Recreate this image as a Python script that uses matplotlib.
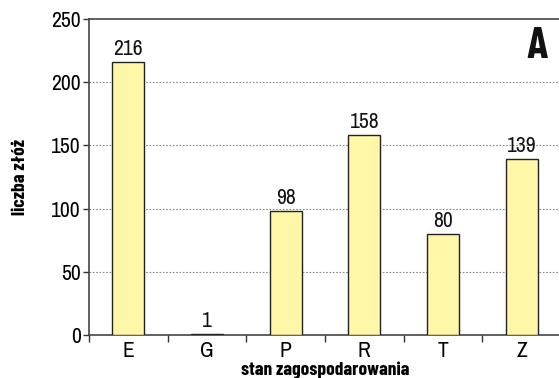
import matplotlib
matplotlib.use("Agg")
import matplotlib.pyplot as plt

categories = ["E", "G", "P", "R", "T", "Z"]
values = [216, 1, 98, 158, 80, 139]
yticks = [0, 50, 100, 150, 200, 250]

plt.rcParams["font.family"] = ["Archivo Narrow", "DejaVu Sans"]
bold_family = ["Barlow Condensed", "DejaVu Sans"]

fig = plt.figure(figsize=(5.59, 3.78), dpi=100)
ax = fig.add_axes([89 / 559, 1 - 335 / 378, (561 - 89) / 559, (335 - 19) / 378])

x = list(range(len(categories)))
ax.bar(x, values, width=0.41, color="#fff7a8", edgecolor="#222222", linewidth=1.0, zorder=3)
for xi, v in zip(x, values):
    ax.text(xi, v + 2.5, str(v), ha="center", va="bottom", fontsize=15.5, color="#111111")

ax.set_xlim(-0.5, len(categories) - 0.5)
ax.set_ylim(0, 250)
ax.set_yticks(yticks)
ax.set_yticklabels([str(t) for t in yticks], fontsize=15.5)
ax.set_xticks(x)
ax.set_xticklabels(categories, fontsize=15.5)
ax.set_xticks([i + 0.5 for i in range(-1, len(categories))], minor=True)
ax.tick_params(axis="x", which="major", length=0, pad=4)
ax.tick_params(axis="x", which="minor", length=5, width=1, color="#333333", direction="out")
ax.tick_params(axis="y", length=4, width=1, color="#333333", pad=2)

for gy in yticks[1:-1]:
    ax.axhline(gy, color="#888888", linewidth=0.8, linestyle=(0, (1.5, 1.5)), zorder=1)

for side in ["left", "top", "bottom"]:
    ax.spines[side].set_color("#444444")
    ax.spines[side].set_linewidth(1.2)
ax.spines["right"].set_visible(False)

ax.set_xlabel("stan zagospodarowania", fontsize=14, fontweight="bold", family=bold_family)
ax.xaxis.set_label_coords(0.5, -40 / 316)
ax.xaxis.label.set_va("baseline")
ax.set_ylabel("liczba złóż", fontsize=14, fontweight="bold", family=bold_family)
ax.yaxis.set_label_coords(-0.145, 0.5)
ax.yaxis.label.set_va("center")

fig.text(537.5 / 559, 1 - 47 / 378, "A", fontsize=32, fontweight="bold", family=bold_family,
         ha="center", va="center", color="#111111")

fig.savefig("out.png", dpi=100)
